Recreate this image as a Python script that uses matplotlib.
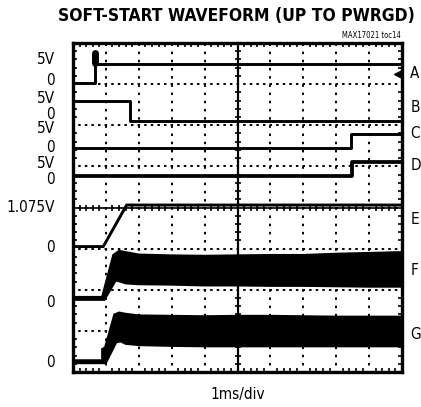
import matplotlib
matplotlib.use('Agg')
import matplotlib.pyplot as plt
from matplotlib.ticker import MultipleLocator
import numpy as np

plt.rcParams['font.family'] = ['DejaVu Sans']
plt.rcParams['font.stretch'] = 'condensed'
plt.rcParams['lines.scale_dashes'] = False

# scope traces, x in divisions (1ms/div), y in divisions (8 div tall)
a_t = [0, 0.67, 0.67, 10]
a_v = [7.03, 7.03, 7.49, 7.49]
b_t = [0, 1.73, 1.73, 10]
b_v = [6.59, 6.59, 6.11, 6.11]
c_t = [0, 8.45, 8.45, 10]
c_v = [5.45, 5.45, 5.79, 5.79]
d_t = [0, 8.48, 8.48, 10]
d_v = [4.77, 4.77, 5.11, 5.11]
e_t = [0, 0.92, 1.63, 10]
e_v = [3.05, 3.05, 4.06, 4.06]

# switching-node style bands (upper / lower envelopes)
f_hi_t = [0, 0.88, 1.22, 1.40, 1.60, 2, 3, 4, 5, 6, 7, 8, 9, 10]
f_hi = [1.83, 1.83, 2.85, 2.95, 2.92, 2.86, 2.84, 2.83, 2.84, 2.85, 2.85, 2.88, 2.90, 2.92]
f_lo_t = [0, 0.96, 1.30, 1.45, 1.60, 2, 3, 4, 5, 6, 7, 8, 9, 10]
f_lo = [1.75, 1.75, 2.22, 2.19, 2.15, 2.13, 2.12, 2.10, 2.10, 2.09, 2.09, 2.08, 2.07, 2.07]
g_hi_t = [0, 0.88, 0.88, 0.97, 1.25, 1.40, 1.6, 2, 3, 4, 5, 6, 7, 8, 9, 10]
g_hi = [0.29, 0.29, 0.56, 0.60, 1.40, 1.45, 1.42, 1.38, 1.37, 1.36, 1.37, 1.37, 1.36, 1.35, 1.35, 1.35]
g_lo_t = [0, 1.0, 1.32, 1.45, 1.6, 2, 3, 4, 5, 6, 7, 8, 9, 10]
g_lo = [0.21, 0.21, 0.72, 0.74, 0.68, 0.65, 0.63, 0.62, 0.62, 0.62, 0.62, 0.62, 0.62, 0.62]

left_txt = ['5V', '0', '5V', '0', '5V', '0', '5V', '0', '1.075V', '0', '0', '0']
left_y = [7.59, 7.08, 6.66, 6.25, 5.93, 5.47, 5.08, 4.67, 4.01, 3.02, 1.70, 0.24]
right_txt = ['A', 'B', 'C', 'D', 'E', 'F', 'G']
right_y = [7.25, 6.42, 5.79, 5.01, 3.72, 2.48, 0.90]

fig = plt.figure(figsize=(4.21, 4.07), dpi=100)
pos = [73/421, 1-372/407, 329/421, 329/407]
ax = fig.add_axes(pos)
ax.set_xlim(0, 10)
ax.set_ylim(0, 8)

# graticule
ax.xaxis.set_major_locator(MultipleLocator(1))
ax.yaxis.set_major_locator(MultipleLocator(1))
ax.xaxis.set_minor_locator(MultipleLocator(0.2))
ax.yaxis.set_minor_locator(MultipleLocator(0.2))
ax.xaxis.grid(True, color='black', lw=1.4, linestyle=(1.2, (1.8, 4.1)))
ax.yaxis.grid(True, color='black', lw=1.4, linestyle=(1.0, (1.8, 2.95)))
ax.tick_params(which='both', direction='in', top=True, right=True,
               labelbottom=False, labelleft=False, width=1.2)
ax.tick_params(which='major', length=0)
ax.tick_params(which='minor', length=3)
for s in ax.spines.values():
    s.set_linewidth(2.4)

# center cross with ticks
ax2 = fig.add_axes(pos, sharex=ax, sharey=ax)
ax2.patch.set_visible(False)
ax2.spines['top'].set_visible(False)
ax2.spines['right'].set_visible(False)
ax2.spines['left'].set_position(('data', 5))
ax2.spines['bottom'].set_position(('data', 4))
ax2.spines['left'].set_linewidth(1.6)
ax2.spines['bottom'].set_linewidth(1.2)
ax2.tick_params(which='both', direction='inout', labelbottom=False, labelleft=False, width=1.2)
ax2.tick_params(which='major', length=0)
ax2.tick_params(which='minor', length=5)

lw = 2.1
ax.plot(a_t, a_v, color='black', lw=lw)
ax.plot([0.67, 0.67], [7.52, 7.76], color='black', lw=5, solid_capstyle='round')
ax.plot([9.88], [7.25], marker='<', color='black', ms=6, clip_on=False)
ax.plot(b_t, b_v, color='black', lw=lw)
ax.plot(c_t, c_v, color='black', lw=lw)
ax.plot(d_t, d_v, color='black', lw=2.7)
ax.plot(e_t, e_v, color='black', lw=lw)
ax.fill(np.r_[f_hi_t, f_lo_t[::-1]], np.r_[f_hi, f_lo[::-1]], color='black', lw=1.2)
ax.fill(np.r_[g_hi_t, g_lo_t[::-1]], np.r_[g_hi, g_lo[::-1]], color='black', lw=1.2)

for t, y in zip(left_txt, left_y):
    ax.text(-0.55, y, t, ha='right', va='center', fontsize=11, clip_on=False)
for t, y in zip(right_txt, right_y):
    ax.text(10.25, y, t, ha='left', va='center', fontsize=11, clip_on=False)

fig.text(0.561, 0.961, 'SOFT-START WAVEFORM (UP TO PWRGD)', ha='center', va='center',
         fontsize=12.5, fontweight='bold')
fig.text(0.953, 0.914, 'MAX17021 toc14', ha='right', va='center', fontsize=5.5)
fig.text(238/421, 1-394/407, '1ms/div', ha='center', va='center', fontsize=11)

fig.savefig('out.png', dpi=100)
